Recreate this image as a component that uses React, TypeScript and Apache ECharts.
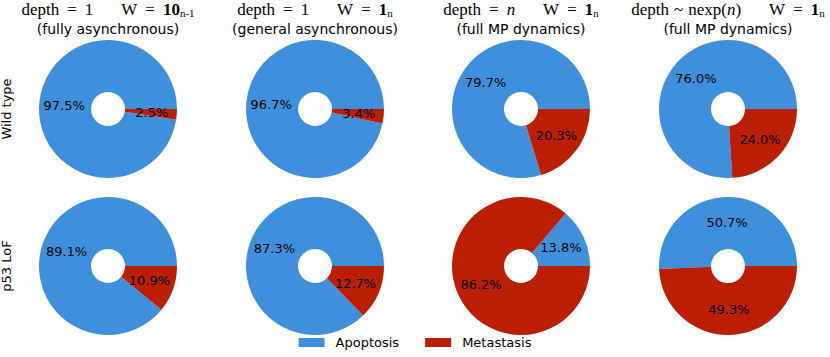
import React, { useEffect, useRef } from "react";
import * as echarts from "echarts";

const categories = ["Apoptosis", "Metastasis"];
const rowLabels = ["Wild type", "p53 LoF"];
const wildType = [
  [97.5, 2.5],
  [96.7, 3.4],
  [79.7, 20.3],
  [76.0, 24.0],
];
const p53LoF = [
  [89.1, 10.9],
  [87.3, 12.7],
  [13.8, 86.2],
  [50.7, 49.3],
];
const mathTitles = [
  "{r|depth}{e| }{r|=}{e| }{r|1}{g| }{r|W}{e| }{r|=}{e| }{b|10}{sub|n-1}",
  "{r|depth}{e| }{r|=}{e| }{r|1}{g| }{r|W}{e| }{r|=}{e| }{b|1}{sub|n}",
  "{r|depth}{e| }{r|=}{e| }{i|n}{g| }{r|W}{e| }{r|=}{e| }{b|1}{sub|n}",
  "{r|depth}{t| }{r|~}{t| }{r|nexp(}{i|n}{r|)}{g| }{r|W}{e| }{r|=}{e| }{b|1}{sub|n}",
];
const subTitles = [
  "(fully asynchronous)",
  "(general asynchronous)",
  "(full MP dynamics)",
  "(full MP dynamics)",
];

const COLORS = ["#3f90dc", "#bb1e00"];
const colX = [108, 315, 521, 728];
const rowY = [109, 266];
const SANS = "DejaVu Sans";
const SERIF = "Liberation Serif";

export default function App() {
  const ref = useRef<HTMLDivElement>(null);
  useEffect(() => {
    const chart = echarts.init(ref.current!, null, { renderer: "svg" });
    const rows = [wildType, p53LoF];
    const series: any[] = [];
    rows.forEach((row, ri) => {
      row.forEach((vals, ci) => {
        const data = vals.map((v, k) => ({
          name: categories[k],
          value: v,
          itemStyle: { color: COLORS[k] },
        }));
        series.push({
          type: "pie",
          center: [colX[ci], rowY[ri]],
          radius: [17, 69],
          startAngle: 0,
          clockwise: false,
          silent: true,
          label: { show: false },
          labelLine: { show: false },
          itemStyle: { borderWidth: 0 },
          data,
        });
        series.push({
          type: "pie",
          center: [colX[ci], rowY[ri]],
          radius: [13, 69],
          startAngle: 0,
          clockwise: false,
          silent: true,
          z: 3,
          itemStyle: { color: "rgba(0,0,0,0)", borderWidth: 0 },
          label: {
            show: true,
            position: "inside",
            fontFamily: SANS,
            fontSize: 13,
            color: "#000",
            formatter: (p: any) => Number(p.value).toFixed(1) + "%",
          },
          labelLine: { show: false },
          data: vals.map((v, k) => ({ name: categories[k] + " ", value: v })),
        });
      });
    });

    const rich = {
      r: { fontFamily: SERIF, fontSize: 17, color: "#000" },
      i: { fontFamily: SERIF, fontSize: 17, fontStyle: "italic", color: "#000" },
      b: { fontFamily: SERIF, fontSize: 17, fontWeight: "bold", color: "#000" },
      sub: {
        fontFamily: SERIF,
        fontSize: 11,
        color: "#000",
        verticalAlign: "bottom",
        padding: [6, 0, 0, 0],
      },
      e: { width: 8 },
      t: { width: 5 },
      g: { width: 28 },
    };

    const titles: any[] = [];
    colX.forEach((x, ci) => {
      titles.push({
        text: mathTitles[ci],
        left: x,
        top: 1,
        textAlign: "center",
        padding: 0,
        textStyle: { rich, fontSize: 17, fontWeight: "normal" },
      });
      titles.push({
        text: subTitles[ci],
        left: x,
        top: 22,
        textAlign: "center",
        padding: 0,
        textStyle: { fontFamily: SANS, fontSize: 14, fontWeight: "normal", color: "#000" },
      });
    });

    chart.setOption({
      animation: false,
      title: titles,
      legend: {
        data: categories.map((c, k) => ({ name: c, itemStyle: { color: COLORS[k] } })),
        bottom: 3,
        left: "center",
        icon: "rect",
        itemWidth: 26,
        itemHeight: 9,
        itemGap: 26,
        selectedMode: false,
        textStyle: { fontFamily: SANS, fontSize: 13, color: "#000", padding: [0, 0, 0, 6] },
      },
      graphic: rowLabels.map((t, ri) => ({
        type: "text",
        x: 6,
        y: rowY[ri],
        rotation: Math.PI / 2,
        style: {
          text: t,
          fontFamily: SANS,
          fontSize: 13,
          fill: "#000",
          textAlign: "center",
          textVerticalAlign: "middle",
        },
      })),
      series,
    });
    return () => chart.dispose();
  }, []);
  return (
    <div
      ref={ref}
      style={{ position: "fixed", left: 0, top: 0, width: 830, height: 357, background: "#fff" }}
    />
  );
}
